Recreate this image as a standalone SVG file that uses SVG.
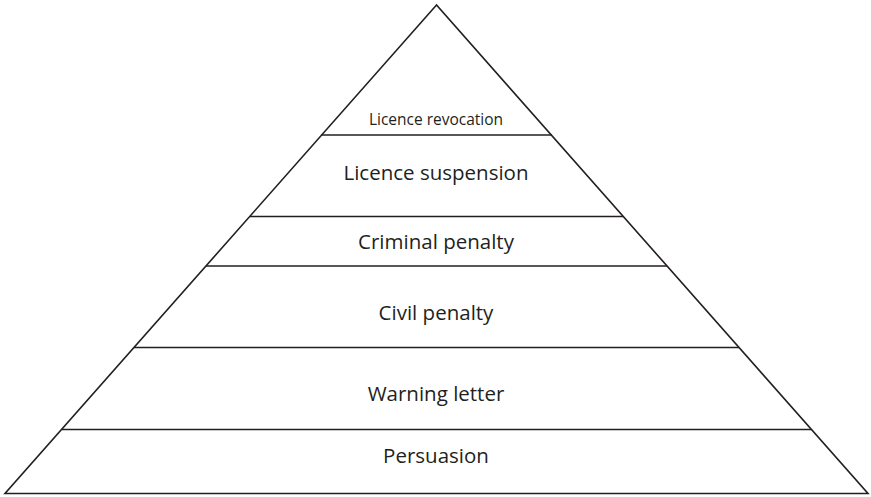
<svg xmlns="http://www.w3.org/2000/svg" width="871" height="497" viewBox="0 0 871 497">
<style>
.edge{stroke:#231f20;stroke-width:1.6;fill:none;stroke-linejoin:miter}
.lbl{font-family:"Open Sans","Noto Sans",sans-serif;fill:#231f20;text-anchor:middle;font-size:20.5px}
.sm{font-size:15.5px}
</style>
<rect width="871" height="497" fill="#fff"/>
<g id="connectors">
<polygon class="edge" points="436.5,5 5,493.5 868,493.5"/>
<line class="edge" x1="321" y1="135" x2="552" y2="135"/>
<line class="edge" x1="250" y1="216.5" x2="623" y2="216.5"/>
<line class="edge" x1="206" y1="266" x2="667" y2="266"/>
<line class="edge" x1="134" y1="347.5" x2="739" y2="347.5"/>
<line class="edge" x1="62" y1="429.5" x2="811" y2="429.5"/>
</g>
<g id="revocation"><text class="lbl sm" x="436" y="125">Licence revocation</text></g>
<g id="suspension"><text class="lbl" x="436" y="180">Licence suspension</text></g>
<g id="criminal"><text class="lbl" x="436" y="249">Criminal penalty</text></g>
<g id="civil"><text class="lbl" x="436" y="320">Civil penalty</text></g>
<g id="warning"><text class="lbl" x="436" y="401">Warning letter</text></g>
<g id="persuasion"><text class="lbl" x="436" y="463">Persuasion</text></g>
</svg>
